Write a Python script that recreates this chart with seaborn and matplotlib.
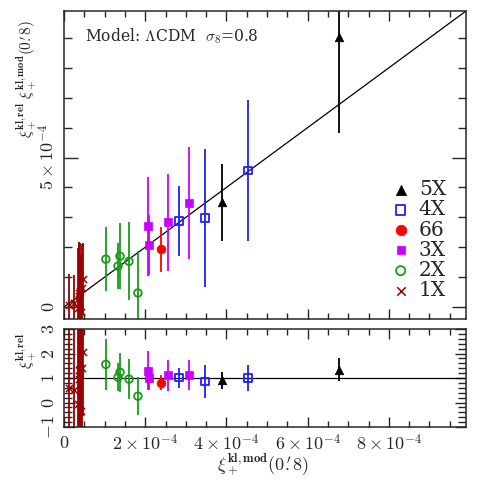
import numpy as np
import pandas as pd
import seaborn as sns
import matplotlib.pyplot as plt
from matplotlib.ticker import MultipleLocator, FixedLocator, FixedFormatter

# datos, en unidades de 1e-4
# x = xi modelo, y = xi medido, e = error

x5 = [6.77, 3.89]
y5 = [9.03, 3.50]
e5 = [3.20, 1.30]

x4 = [4.53, 3.47, 2.83]
y4 = [4.57, 2.97, 2.87]
e4 = [2.37, 2.30, 1.17]

x66 = [2.39]
y66 = [1.93]
e66 = [0.75]

x3 = [2.07, 2.09, 2.56, 3.08]
y3 = [2.70, 2.07, 2.83, 3.47]
e3 = [1.65, 1.00, 1.63, 1.87]

x2 = [1.03, 1.33, 1.38, 1.60, 1.82]
y2 = [1.60, 1.37, 1.70, 1.53, 0.47]
e2 = [1.07, 0.77, 1.10, 1.30, 1.40]

x1 = [0.12, 0.24, 0.34, 0.36, 0.38, 0.40, 0.42, 0.44, 0.46]
y1 = [0.07, 0.12, -0.02, 0.48, 0.36, 0.55, -0.15, 0.62, 0.95]
e1 = [1.05, 0.95, 2.00, 1.70, 1.80, 1.60, 1.90, 1.50, 1.20]

labels = ["5X", "4X", "66", "3X", "2X", "1X"]
xticks = [0, 2e-4, 4e-4, 6e-4, 8e-4]
xticklabels = ["0", r"$2\times10^{-4}$", r"$4\times10^{-4}$", r"$6\times10^{-4}$", r"$8\times10^{-4}$"]

sns.set_style("ticks")
plt.rcParams["font.family"] = ["DejaVu Serif"]
plt.rcParams["mathtext.fontset"] = "cm"

# estilo de cada grupo: color, marcador, relleno, tamano
styles = {
    "5X": ("black", "^", True, 38),
    "4X": ("#1f1fff", "s", False, 30),
    "66": ("#ff0000", "o", True, 40),
    "3X": ("#cc00ff", "s", True, 26),
    "2X": ("#1a9a1a", "o", False, 30),
    "1X": ("#990000", "x", True, 26),
}
data = {
    "5X": (x5, y5, e5), "4X": (x4, y4, e4), "66": (x66, y66, e66),
    "3X": (x3, y3, e3), "2X": (x2, y2, e2), "1X": (x1, y1, e1),
}

fig = plt.figure(figsize=(4.8, 4.8), dpi=100)
ax = fig.add_axes([64/480, 1-319/480, 402/480, 308/480])
ax2 = fig.add_axes([64/480, 1-427/480, 402/480, 98/480])

for lab in labels[::-1]:
    x, y, e = data[lab]
    x = np.array(x); y = np.array(y); e = np.array(e)
    df = pd.DataFrame({"mod": x*1e-4, "rel": y*1e-4, "err": e*1e-4,
                       "ratio": y/x, "rerr": e/x})
    c, m, filled, s = styles[lab]
    ax.errorbar(df["mod"], df["rel"], yerr=df["err"], fmt="none", ecolor=c,
                elinewidth=1.3, capsize=0, zorder=2)
    ax2.errorbar(df["mod"], df["ratio"], yerr=df["rerr"], fmt="none", ecolor=c,
                 elinewidth=1.3, capsize=0, zorder=2)
    if m == "x":
        kw = dict(color=c, linewidth=1.1)
    elif filled:
        kw = dict(color=c, edgecolor=c, linewidth=0.5)
    else:
        kw = dict(facecolor="none", edgecolor=c, linewidth=1.3)
    sns.scatterplot(data=df, x="mod", y="rel", marker=m, s=s, ax=ax, label=lab, zorder=3, **kw)
    sns.scatterplot(data=df, x="mod", y="ratio", marker=m, s=s, ax=ax2, zorder=3, legend=False, **kw)

ax.axline((0, 0), slope=1, color="black", lw=0.9, zorder=1)
ax2.axhline(1, color="black", lw=0.9, zorder=1)

for a in (ax, ax2):
    a.set_xlim(0, 9.9e-4)
    a.xaxis.set_major_locator(FixedLocator(xticks))
    a.xaxis.set_minor_locator(MultipleLocator(0.5e-4))
    a.tick_params(which="both", direction="in", top=True, right=True, width=1, pad=4)
    a.tick_params(axis="x", which="major", length=7)
    a.tick_params(axis="x", which="minor", length=4)
    a.set_xlabel("")
    a.set_ylabel("")
    for sp in a.spines.values():
        sp.set_linewidth(1.1)

ax.set_ylim(-0.4e-4, 9.9e-4)
ax.yaxis.set_major_locator(FixedLocator([0, 5e-4]))
ax.yaxis.set_major_formatter(FixedFormatter(["0", r"$5\times10^{-4}$"]))
ax.yaxis.set_minor_locator(MultipleLocator(1e-4))
ax.tick_params(axis="y", which="major", length=10)
ax.tick_params(axis="y", which="minor", length=6)
ax.tick_params(axis="x", labelbottom=False)

ax2.set_ylim(-1, 3)
ax2.yaxis.set_major_locator(FixedLocator([-1, 0, 1, 2, 3]))
ax2.yaxis.set_major_formatter(FixedFormatter(["$-1$", "$0$", "$1$", "$2$", "$3$"]))
ax2.yaxis.set_minor_locator(MultipleLocator(0.2))
ax2.tick_params(axis="y", which="major", length=8)
ax2.tick_params(axis="y", which="minor", length=6)
ax2.xaxis.set_major_formatter(FixedFormatter(["$0$"] + xticklabels[1:]))
ax2.tick_params(axis="x", pad=5)

for a in (ax, ax2):
    for t in a.get_yticklabels():
        t.set_rotation(90)
        t.set_va("center")
        t.set_fontsize(13)
    for t in a.get_xticklabels():
        t.set_fontsize(13)
ax.get_yticklabels()[0].set_text("$0$")
ax.yaxis.set_major_formatter(FixedFormatter(["$0$", r"$5\times10^{-4}$"]))

ax.text(0.052, 0.919, r"Model: $\Lambda$CDM  $\sigma_8$=0.8", transform=ax.transAxes,
        fontsize=11.2, va="center", ha="left")

h, l = ax.get_legend_handles_labels()
order = [l.index(k) for k in labels]
ax.legend([h[i] for i in order], [l[i] for i in order], loc="center left",
          bbox_to_anchor=(0.815, 0.256), frameon=False, fontsize=14.5,
          handlelength=0.9, handletextpad=0.45, labelspacing=0.06,
          borderpad=0, borderaxespad=0, markerscale=1.2)

fig.text(263/480, 1-465/480, r"$\xi_+^{\mathbf{kl,mod}}(0\overset{\prime}{.}8)$",
         ha="center", va="center", fontsize=13)
fig.text(27/480, 1-79/480, r"$\xi_+^{\mathbf{kl,rel}}\ \xi_+^{\mathbf{kl,mod}}(0\overset{\prime}{.}8)$",
         ha="center", va="center", rotation=90, fontsize=11)
fig.text(27/480, 1-351/480, r"$\xi_+^{\mathbf{kl,rel}}$",
         ha="center", va="center", rotation=90, fontsize=11)

fig.savefig("out.png", dpi=100)
